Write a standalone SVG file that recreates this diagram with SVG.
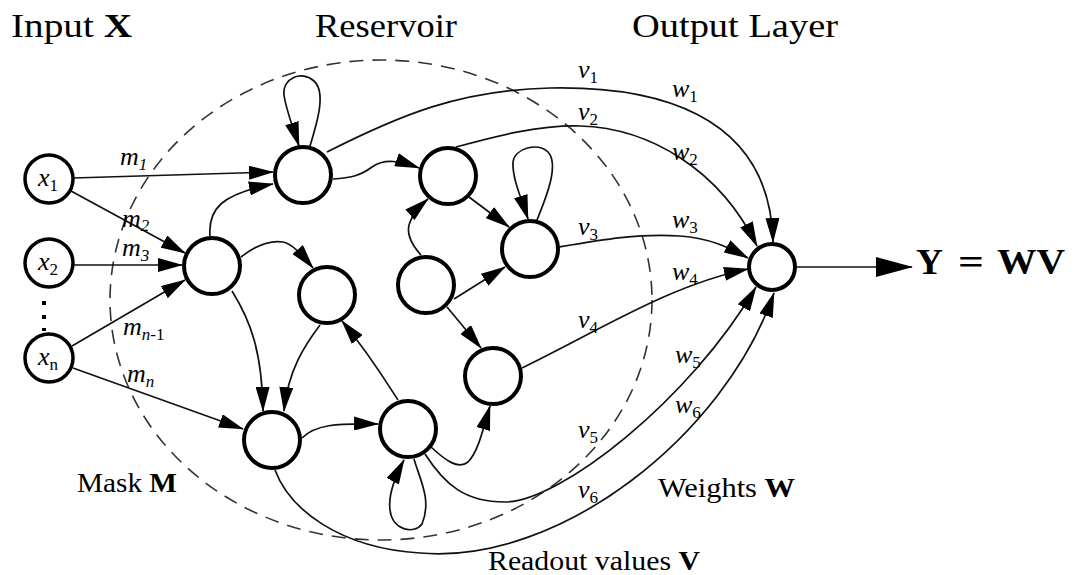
<svg xmlns="http://www.w3.org/2000/svg" width="1085" height="575" viewBox="0 0 1085 575">
  <style>
    text { font-family: "Liberation Serif", "Times New Roman", serif; fill: #000; }
    .title { font-size: 33px; }
    .cap { font-size: 27px; }
    .lab { font-size: 26px; font-style: italic; }
    .sub { font-size: 17px; }
    .up { font-style: normal; }
    .b { font-weight: bold; font-style: normal; }
    .eq { font-size: 35px; font-weight: bold; }
    .node { fill: #fff; stroke: #000; stroke-width: 4; }
    .inode { fill: #fff; stroke: #000; stroke-width: 3.5; }
    .edge { fill: none; stroke: #111; stroke-width: 1.7; marker-end: url(#ah); }
    .plain { fill: none; stroke: #111; stroke-width: 1.7; }
    .mask { fill: none; stroke: #333; stroke-width: 1.6; stroke-dasharray: 14 9; }
  </style>
  <defs>
    <marker id="ah" markerWidth="25" markerHeight="14" refX="24" refY="7" orient="auto" markerUnits="userSpaceOnUse">
      <path d="M0,0 L25,7 L0,14 z" fill="#000"/>
    </marker>
    <marker id="ahbig" markerWidth="37" markerHeight="20" refX="36" refY="10" orient="auto" markerUnits="userSpaceOnUse">
      <path d="M0,0 L37,10 L0,20 z" fill="#000"/>
    </marker>
  </defs>
  <rect width="1085" height="575" fill="#fff"/>

  <!-- headings -->
  <text class="title" x="11" y="37" textLength="121" lengthAdjust="spacingAndGlyphs">Input <tspan class="b">X</tspan></text>
  <text class="title" x="315" y="37" textLength="142" lengthAdjust="spacingAndGlyphs">Reservoir</text>
  <text class="title" x="632" y="37" textLength="206" lengthAdjust="spacingAndGlyphs">Output Layer</text>

  <!-- reservoir boundary -->
  <ellipse class="mask" cx="381" cy="300" rx="271" ry="240"/>

  <!-- connectors -->
  <g id="connectors">
    <!-- input mask -->
    <path class="edge" d="M73,178 L273,172"/>
    <path class="edge" d="M71,191 L185,253"/>
    <path class="edge" d="M73,265 L182,265"/>
    <path class="edge" d="M72,346 L185,280"/>
    <path class="edge" d="M73,368 L243,429"/>
    <!-- reservoir internal -->
    <path class="edge" d="M310,146 C318,120 326,92 314,81 C302,70 282,78 284,95 C286,110 294,130 299,146"/>
    <path class="edge" d="M210,236 C208,210 220,194 273,184"/>
    <path class="edge" d="M241,257 C255,246 270,240 283,242 C293,244 303,256 313,268"/>
    <path class="edge" d="M232,291 C250,320 262,350 263,411"/>
    <path class="edge" d="M320,325 C305,345 288,370 284,411"/>
    <path class="edge" d="M398,400 C385,380 370,355 342,321"/>
    <path class="edge" d="M302,438 C315,425 335,423 378,424"/>
    <path class="edge" d="M414,459 C420,480 432,500 422,524 C414,535 392,530 390,510 C388,495 396,475 404,460"/>
    <path class="edge" d="M431,447 C445,460 458,470 468,462 C478,452 483,430 490,406"/>
    <path class="edge" d="M421,255 C410,243 406,232 410,222 C413,214 420,206 428,199"/>
    <path class="edge" d="M454,299 L505,267"/>
    <path class="edge" d="M447,307 L481,348"/>
    <path class="edge" d="M333,179 C350,178 360,176 372,167 C385,158 400,161 419,168"/>
    <path class="edge" d="M469,197 L509,227"/>
    <path class="edge" d="M537,220 C545,200 560,165 548,152 C538,142 515,148 513,162 C512,178 522,200 528,219"/>
    <!-- readout -->
    <path class="edge" d="M327,152 C400,115 460,90 550,88 C650,86 770,110 773,242"/>
    <path class="edge" d="M456,147 C500,135 540,125 580,126 C650,128 720,170 757,246"/>
    <path class="edge" d="M559,247 C600,240 640,233 680,236 C710,238 730,248 748,258"/>
    <path class="edge" d="M522,368 C600,330 670,285 748,269"/>
    <path class="edge" d="M425,454 C445,485 465,502 505,502 C560,502 690,400 756,287"/>
    <path class="edge" d="M275,470 C290,510 340,548 420,553 C560,565 725,435 774,293"/>
    <!-- output -->
    <path class="plain" d="M797,267 L912,267" marker-end="url(#ahbig)"/>
  </g>

  <!-- input nodes -->
  <g id="x1"><circle class="inode" cx="49" cy="179" r="24"/><text class="lab" x="38" y="186">x<tspan class="sub up" dy="5">1</tspan></text></g>
  <g id="x2"><circle class="inode" cx="49" cy="263" r="24"/><text class="lab" x="38" y="270">x<tspan class="sub up" dy="5">2</tspan></text></g>
  <g id="xn"><circle class="inode" cx="49" cy="358" r="24"/><text class="lab" x="38" y="365">x<tspan class="sub up" dy="5">n</tspan></text></g>
  <g id="dots">
    <rect x="42" y="301" width="4" height="4"/>
    <rect x="42" y="315" width="4" height="4"/>
    <rect x="42" y="328" width="4" height="3"/>
  </g>

  <!-- reservoir nodes -->
  <g id="nA"><circle class="node" cx="303" cy="175" r="28"/></g>
  <g id="nB"><circle class="node" cx="212" cy="266" r="28"/></g>
  <g id="nC"><circle class="node" cx="327" cy="295" r="28"/></g>
  <g id="nD"><circle class="node" cx="272" cy="440" r="28"/></g>
  <g id="nE"><circle class="node" cx="408" cy="429" r="28"/></g>
  <g id="nF"><circle class="node" cx="493" cy="376" r="28"/></g>
  <g id="nG"><circle class="node" cx="448" cy="176" r="28"/></g>
  <g id="nH"><circle class="node" cx="530" cy="249" r="28"/></g>
  <g id="nI"><circle class="node" cx="426" cy="285" r="28"/></g>

  <!-- output node and result -->
  <g id="out"><circle class="node" cx="772" cy="267" r="23"/></g>
  <g id="result">
    <text class="eq" x="916" y="274" textLength="27" lengthAdjust="spacingAndGlyphs">Y</text>
    <text class="eq" x="958" y="274" textLength="26" lengthAdjust="spacingAndGlyphs">=</text>
    <text class="eq" x="997" y="274" textLength="68" lengthAdjust="spacingAndGlyphs">WV</text>
  </g>

  <!-- connector labels -->
  <g id="labels">
    <text class="lab" x="120" y="165">m<tspan class="sub" dy="5">1</tspan></text>
    <text class="lab" x="122" y="227">m<tspan class="sub" dy="4">2</tspan></text>
    <text class="lab" x="122" y="256">m<tspan class="sub" dy="5">3</tspan></text>
    <text class="lab" x="123" y="335">m<tspan class="sub" dy="5">n</tspan><tspan class="sub up">-1</tspan></text>
    <text class="lab" x="127" y="382">m<tspan class="sub" dy="5">n</tspan></text>
    <text class="lab" x="578" y="78">v<tspan class="sub up" dy="5">1</tspan></text>
    <text class="lab" x="578" y="120">v<tspan class="sub up" dy="5">2</tspan></text>
    <text class="lab" x="578" y="235">v<tspan class="sub up" dy="5">3</tspan></text>
    <text class="lab" x="578" y="328">v<tspan class="sub up" dy="5">4</tspan></text>
    <text class="lab" x="578" y="438">v<tspan class="sub up" dy="5">5</tspan></text>
    <text class="lab" x="578" y="498">v<tspan class="sub up" dy="5">6</tspan></text>
    <text class="lab" x="672" y="97">w<tspan class="sub up" dy="5">1</tspan></text>
    <text class="lab" x="672" y="160">w<tspan class="sub up" dy="5">2</tspan></text>
    <text class="lab" x="672" y="228">w<tspan class="sub up" dy="5">3</tspan></text>
    <text class="lab" x="672" y="280">w<tspan class="sub up" dy="5">4</tspan></text>
    <text class="lab" x="675" y="363">w<tspan class="sub up" dy="5">5</tspan></text>
    <text class="lab" x="675" y="413">w<tspan class="sub up" dy="5">6</tspan></text>
  </g>

  <!-- captions -->
  <text class="cap" x="77" y="492" textLength="100" lengthAdjust="spacingAndGlyphs">Mask <tspan class="b">M</tspan></text>
  <text class="cap" x="658" y="497" textLength="137" lengthAdjust="spacingAndGlyphs">Weights <tspan class="b">W</tspan></text>
  <text class="cap" x="488" y="570" textLength="212" lengthAdjust="spacingAndGlyphs">Readout values <tspan class="b">V</tspan></text>
</svg>
